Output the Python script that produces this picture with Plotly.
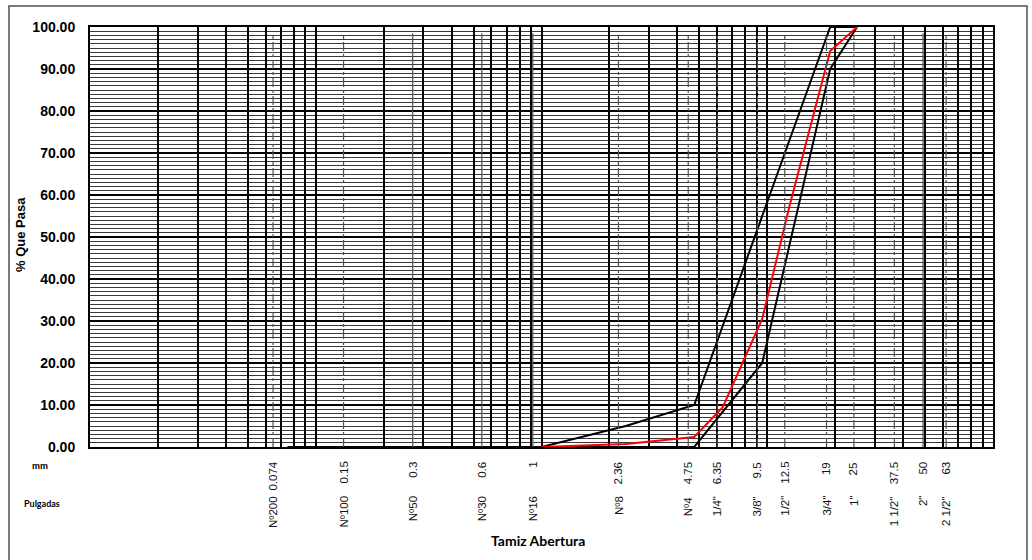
import numpy as np
import plotly.graph_objects as go

# Grading envelope (upper / lower limits) and the tested sample, sieve opening in mm vs % passing
upper_mm = [1, 2.36, 4.75, 9.5, 19, 25]
upper_pct = [0, 5, 10, 55, 100, 100]

lower_mm = [0.075, 4.75, 9.5, 19, 25]
lower_pct = [0, 0, 20, 90, 100]

sample_mm = [1, 2.36, 4.75, 6.35, 9.5, 12.5, 19, 25]
sample_pct = [0, 0.7, 2.4, 9.5, 30.5, 57, 94.3, 100]

# Sieve series shown under the axis
sieve_mm = [0.074, 0.15, 0.3, 0.6, 1, 2.36, 4.75, 6.35, 9.5, 12.5, 19, 25, 37.5, 50, 63]
sieve_mm_text = ["0.074", "0.15", "0.3", "0.6", "1", "2.36", "4.75", "6.35", "9.5",
                 "12.5", "19", "25", "37.5", "50", "63"]
sieve_name = ["Nº200", "Nº100", "Nº50", "Nº30", "Nº16", "Nº8", "Nº4", "1/4\"", "3/8\"",
              "1/2\"", "3/4\"", "1\"", "1 1/2\"", "2\"", "2 1/2\""]
guide_top = 98.5

W, H = 1032, 560
L, R, T, B = 90, 39, 27, 113
PW, PH = W - L - R, H - T - B


def px_x(p):
    return (p - L) / PW


def px_y(p):
    return (H - B - p) / PH


fig = go.Figure()

# Sieve guide lines (secondary log axis)
solid_guides = {0.3, 0.6, 1, 50}
for style, keep in (("dashdot", False), ("solid", True)):
    xs, ys = [], []
    for v in sieve_mm:
        if (v in solid_guides) == keep:
            xs += [v, v, None]
            ys += [0, guide_top, None]
    fig.add_trace(go.Scatter(
        x=xs, y=ys, xaxis="x2", yaxis="y", mode="lines",
        line=dict(color="#505050", width=1.2, dash=style),
        hoverinfo="skip", showlegend=False))

fig.add_trace(go.Scatter(x=lower_mm, y=lower_pct, mode="lines",
                         line=dict(color="black", width=2), showlegend=False))
fig.add_trace(go.Scatter(x=upper_mm, y=upper_pct, mode="lines",
                         line=dict(color="black", width=2), showlegend=False))
fig.add_trace(go.Scatter(x=sample_mm, y=sample_pct, mode="lines",
                         line=dict(color="#ff0000", width=2), showlegend=False))

ann = []
lab_font = dict(family="Liberation Sans, Arial", size=11.5, color="#111")
for v, t, n in zip(sieve_mm, sieve_mm_text, sieve_name):
    ann.append(dict(x=np.log10(v), xref="x2", y=px_y(460), yref="paper",
                    text=t, textangle=-90, showarrow=False, xanchor="center",
                    yanchor="top", font=lab_font))
    ann.append(dict(x=np.log10(v), xref="x2", y=px_y(494), yref="paper",
                    text=n, textangle=-90, showarrow=False, xanchor="center",
                    yanchor="top", font=lab_font))

ann += [
    dict(x=px_x(20), y=px_y(235), xref="paper", yref="paper", text="<b>% Que Pasa</b>",
         textangle=-90, showarrow=False, xanchor="center", yanchor="middle",
         font=dict(family="Liberation Sans, Arial", size=13, color="black")),
    dict(x=px_x(538), y=px_y(540), xref="paper", yref="paper", text="<b>Tamiz Abertura</b>",
         showarrow=False, xanchor="center", yanchor="middle",
         font=dict(family="Lato, Open Sans", size=14, color="black")),
    dict(x=px_x(40), y=px_y(466), xref="paper", yref="paper", text="<b>mm</b>",
         showarrow=False, xanchor="center", yanchor="middle",
         font=dict(family="Liberation Sans, Arial", size=9, color="black")),
    dict(x=px_x(42), y=px_y(503), xref="paper", yref="paper", text="<b>Pulgadas</b>",
         showarrow=False, xanchor="center", yanchor="middle",
         font=dict(family="Lato, Open Sans", size=9, color="black")),
]

fig.update_layout(
    width=W, height=H,
    margin=dict(l=L, r=R, t=T, b=B),
    paper_bgcolor="white", plot_bgcolor="white",
    annotations=ann,
    shapes=[dict(type="rect", xref="paper", yref="paper",
                 x0=px_x(9), x1=px_x(1027), y0=px_y(575), y1=px_y(6),
                 line=dict(color="#7a7a7a", width=2), layer="below")],
    xaxis=dict(type="log", range=[-2, 2], dtick="D1", showticklabels=False,
               showgrid=True, gridcolor="black", gridwidth=2, ticks="",
               showline=True, linecolor="black", linewidth=2, mirror=True),
    xaxis2=dict(type="log", overlaying="x",
                range=[(L - 532.8) / 229.7, (L + PW - 532.8) / 229.7],
                showticklabels=False, showgrid=False, ticks="", showline=False),
    yaxis=dict(range=[0, 100], dtick=10, tickformat=".2f",
               tickfont=dict(family="Liberation Sans, Arial", size=14, color="black",
                             weight="bold"),
               ticklabelstandoff=10,
               showgrid=True, gridcolor="black", gridwidth=2,
               minor=dict(dtick=1, showgrid=True, gridcolor="#3a3a3a", gridwidth=1),
               showline=True, linecolor="black", linewidth=2, mirror=True,
               zeroline=False),
)

fig.write_html("out.html")
